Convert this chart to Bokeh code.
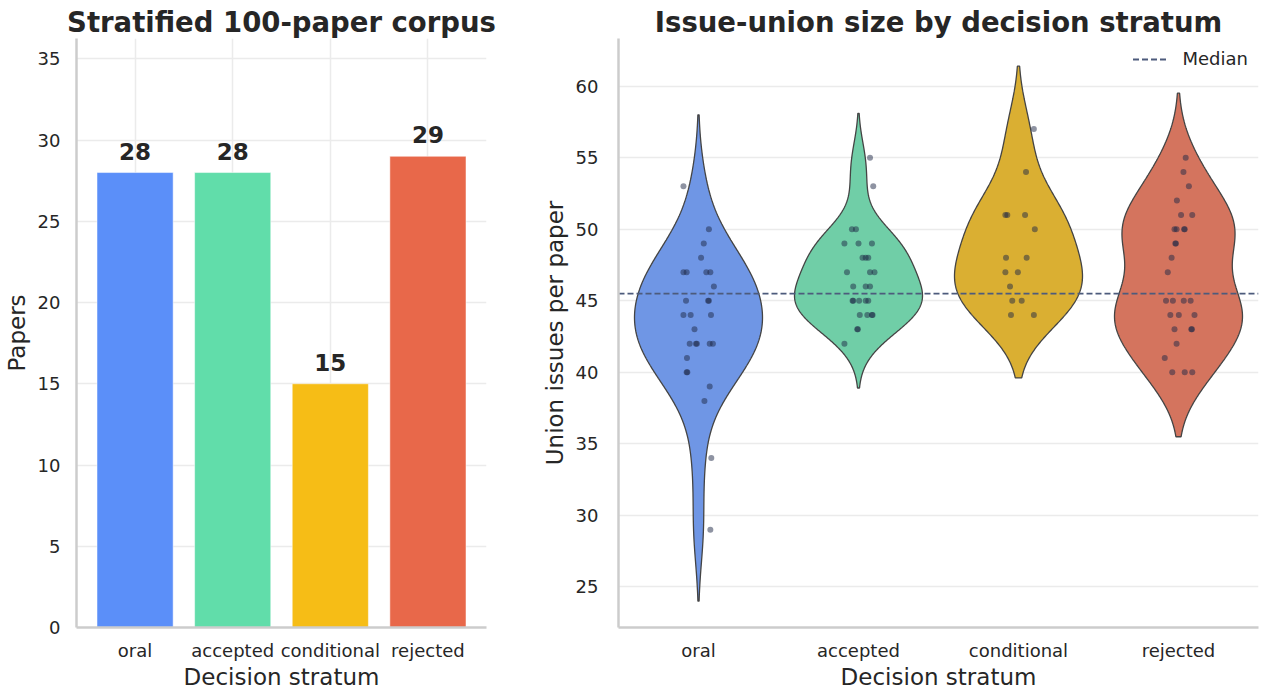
import colorsys
import numpy as np
from bokeh.plotting import figure
from bokeh.layouts import row
from bokeh.models import FixedTicker, Range1d, Legend, LegendItem, ColumnDataSource
from bokeh.embed import file_html
from bokeh.resources import INLINE

# ---------------- data ----------------
categories = ["oral", "accepted", "conditional", "rejected"]
paper_counts = [28, 28, 15, 29]
palette = ["#5B8FF9", "#61DDAA", "#F6BD16", "#E8684A"]

oral_issues = [53, 50, 49, 48, 47, 47, 47, 47, 46, 45, 45, 45, 44, 44, 44, 43,
               42, 42, 42, 42, 42, 41, 40, 40, 39, 38, 34, 29]
oral_jitter = [-0.094, 0.065, 0.033, 0.016, -0.094, -0.074, 0.049, 0.074, 0.096,
               -0.078, 0.065, 0.060, -0.094, -0.049, 0.078, -0.025,
               -0.055, -0.016, -0.010, 0.070, 0.090, -0.072, -0.074, -0.070,
               0.070, 0.037, 0.080, 0.074]

accepted_issues = [55, 53, 50, 50, 49, 49, 49, 48, 48, 48, 47, 47, 47, 46, 46, 46,
                   45, 45, 45, 45, 45, 44, 44, 44, 44, 43, 43, 42]
accepted_jitter = [0.072, 0.092, -0.041, -0.016, -0.088, 0.0, 0.084, 0.025, 0.045,
                   0.061, -0.072, 0.072, 0.100, -0.033, 0.045, 0.072,
                   -0.037, -0.033, 0.004, 0.045, 0.061, 0.008, 0.055, 0.088, 0.084,
                   -0.004, -0.008, -0.088]

conditional_issues = [57, 54, 51, 51, 51, 50, 48, 48, 47, 47, 46, 45, 45, 44, 44]
conditional_jitter = [0.096, 0.047, -0.082, -0.070, 0.041, 0.102, -0.078, 0.051,
                      -0.082, -0.004, -0.053, -0.039, 0.020, -0.047, 0.096]

rejected_issues = [55, 54, 53, 52, 51, 51, 50, 50, 50, 50, 49, 49, 48, 47, 45, 45,
                   45, 45, 44, 44, 44, 43, 43, 43, 42, 41, 40, 40, 40]
rejected_jitter = [0.045, 0.031, 0.065, -0.010, 0.016, 0.086, -0.025, -0.012, 0.039,
                   0.035, -0.016, -0.020, -0.043, -0.067, -0.078, -0.035, 0.033,
                   0.076, -0.051, 0.002, 0.100, -0.025, 0.080, 0.084, -0.012,
                   -0.086, -0.039, 0.039, 0.086]

issues = [oral_issues, accepted_issues, conditional_issues, rejected_issues]
jitters = [oral_jitter, accepted_jitter, conditional_jitter, rejected_jitter]

# ---------------- style ----------------
FONT = "DejaVu Sans"
TXT = "#262626"
GRID = "#ebebeb"
SPINE = "#cccccc"


def desaturate(hexcol, prop=0.75):
    r, g, b = (int(hexcol[i:i + 2], 16) / 255 for i in (1, 3, 5))
    h, l, s = colorsys.rgb_to_hls(r, g, b)
    r, g, b = colorsys.hls_to_rgb(h, l, s * prop)
    return "#%02x%02x%02x" % (round(r * 255), round(g * 255), round(b * 255))


def style(p, ylab_standoff):
    p.outline_line_color = None
    p.background_fill_color = "white"
    p.border_fill_color = "white"
    p.title.text_font = FONT
    p.title.text_font_size = "27.5px"
    p.title.text_font_style = "bold"
    p.title.text_color = TXT
    p.title.align = "center"
    p.title.standoff = 2
    for ax in (p.xaxis[0], p.yaxis[0]):
        ax.axis_line_color = SPINE
        ax.axis_line_width = 2.5
        ax.major_tick_line_color = None
        ax.minor_tick_line_color = None
        ax.major_tick_out = 0
        ax.major_tick_in = 0
        ax.major_label_text_font = FONT
        ax.major_label_text_font_size = "18px"
        ax.major_label_text_color = TXT
        ax.axis_label_text_font = FONT
        ax.axis_label_text_font_size = "23px"
        ax.axis_label_text_font_style = "normal"
        ax.axis_label_text_color = TXT
    p.yaxis.major_label_standoff = ylab_standoff
    p.yaxis.axis_label_standoff = 5
    p.xaxis.major_label_standoff = 12
    p.xaxis.axis_label_standoff = 0
    p.ygrid.grid_line_color = GRID
    p.ygrid.grid_line_width = 1.5


cat_pos = list(range(len(categories)))
cat_labels = {i: c for i, c in enumerate(categories)}

FRAME_H = 589
TOP = 38
BOTTOM = 60

# ---------------- left: bar chart ----------------
left = figure(frame_width=410, frame_height=FRAME_H, min_border_left=72,
              min_border_right=50, min_border_top=TOP, min_border_bottom=BOTTOM,
              x_range=Range1d(-0.6, 3.6), y_range=Range1d(0, 36.25),
              title="Stratified 100-paper corpus", output_backend="svg",
              toolbar_location=None)
style(left, 16)
left.xgrid.grid_line_color = GRID
left.xgrid.grid_line_width = 1.5
left.xaxis.ticker = FixedTicker(ticks=cat_pos)
left.xaxis.major_label_overrides = cat_labels
left.yaxis.ticker = FixedTicker(ticks=[0, 5, 10, 15, 20, 25, 30, 35])
left.xaxis.axis_label = "Decision stratum"
left.yaxis.axis_label = "Papers"

bar_src = ColumnDataSource(dict(x=cat_pos, top=paper_counts, color=palette,
                                label=[str(v) for v in paper_counts]))
left.vbar(x="x", top="top", width=0.78, bottom=0, color="color",
          line_color="white", line_width=0.5, source=bar_src)
left.text(x="x", y="top", text="label", source=bar_src, text_align="center",
          text_baseline="bottom", y_offset=-13, text_font_size="23px",
          text_font_style="bold", text_color=TXT, text_font={"value": FONT})

# ---------------- right: violin chart ----------------
right = figure(frame_width=640, frame_height=FRAME_H, min_border_left=82,
               min_border_right=4, min_border_top=TOP, min_border_bottom=BOTTOM,
               x_range=Range1d(-0.5, 3.5), y_range=Range1d(22.16, 63.33),
               title="Issue-union size by decision stratum", output_backend="svg",
               toolbar_location=None)
style(right, 20)
right.xgrid.grid_line_color = None
right.xaxis.ticker = FixedTicker(ticks=cat_pos)
right.xaxis.major_label_overrides = cat_labels
right.yaxis.ticker = FixedTicker(ticks=[25, 30, 35, 40, 45, 50, 55, 60])
right.xaxis.axis_label = "Decision stratum"
right.yaxis.axis_label = "Union issues per paper"

half_width = 0.4
for i, (vals, col) in enumerate(zip(issues, palette)):
    v = np.asarray(vals, dtype=float)
    bw = v.std(ddof=1) * len(v) ** (-1 / 5)
    grid = np.linspace(v.min() - 2 * bw, v.max() + 2 * bw, 300)
    dens = np.exp(-0.5 * ((grid[:, None] - v[None, :]) / bw) ** 2).sum(axis=1)
    dens = dens / dens.max() * half_width
    xs = np.concatenate([i - dens, (i + dens)[::-1]])
    ys = np.concatenate([grid, grid[::-1]])
    right.patch(xs, ys, fill_color=desaturate(col), line_color="#444444",
                line_width=1.3)

for i, (vals, jit) in enumerate(zip(issues, jitters)):
    right.scatter([i + j for j in jit], vals, size=6, fill_color="#1d2745",
                  line_color=None, fill_alpha=0.5)

all_vals = np.concatenate([np.asarray(v, float) for v in issues])
median_val = float(np.median(all_vals))
med = right.line([-0.5, 3.5], [median_val, median_val], line_color="#4d5b7c",
                 line_width=1.8, line_dash="6 3")
legend = Legend(items=[LegendItem(label="Median", renderers=[med])],
                location="top_right")
legend.label_text_font = FONT
legend.label_text_font_size = "18px"
legend.label_text_color = TXT
legend.border_line_color = None
legend.background_fill_alpha = 0.8
legend.glyph_width = 34
legend.label_standoff = 16
legend.margin = 10
legend.padding = 12
right.add_layout(legend)

layout = row(left, right)
open("out.html", "w").write(file_html(layout, INLINE))
